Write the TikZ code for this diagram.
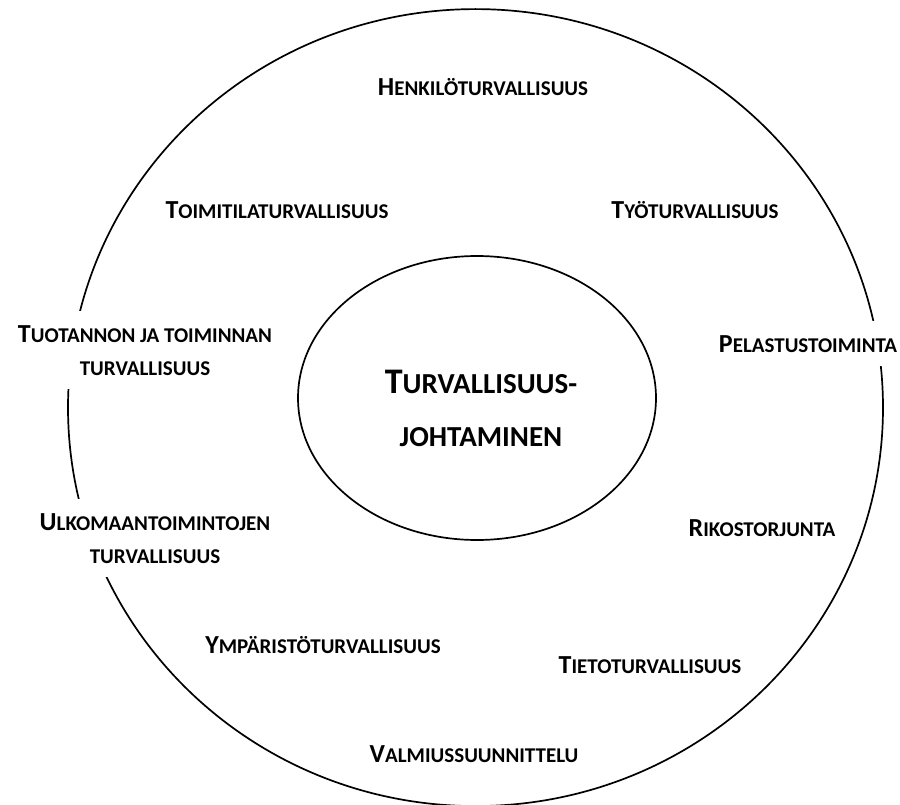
\documentclass[tikz,border=0pt]{standalone}
\usepackage{fontspec}
\setmainfont{Carlito}
\usetikzlibrary{shapes.geometric}
% small-caps label: large initial, smaller remaining capitals
\newcommand\scl[2]{{\fontsize{26}{33}\selectfont #1}{\fontsize{21}{33}\selectfont #2}}
\newcommand\scm[1]{{\fontsize{21}{33}\selectfont #1}}
\newcommand\scb[2]{{\fontsize{36}{53}\selectfont #1}{\fontsize{29}{53}\selectfont #2}}
\begin{document}
\begin{tikzpicture}[x=1pt,y=-1pt,
  ring/.style={draw, ellipse, line width=1.7pt, inner sep=0pt},
  lbl/.style={font=\bfseries\fontsize{21}{33}\selectfont, align=center, anchor=base, inner sep=0pt},
  cut/.style={lbl, fill=white, inner xsep=6pt, inner ysep=14pt}]
\useasboundingbox (0,0) rectangle (900,805);
% outer and inner rings
\node[ring, minimum width=815pt, minimum height=797pt] (outer) at (475.5,407.6) {};
\node[ring, minimum width=358pt, minimum height=284pt] (inner) at (477,398) {};
% central label (anchored at the baseline of its last line)
\node[lbl, font=\bfseries\fontsize{29}{53}\selectfont] (center) at (481,446) {\scb{T}{URVALLISUUS-}\\\scb{}{JOHTAMINEN}};
% surrounding labels
\node[lbl] (henk) at (483,96) {\scl{H}{ENKILÖTURVALLISUUS}};
\node[lbl] (toim) at (277,219) {\scl{T}{OIMITILATURVALLISUUS}};
\node[lbl] (tyo) at (695,219) {\scl{T}{YÖTURVALLISUUS}};
\node[cut] (tuot) at (145,375) {\scl{T}{UOTANNON JA TOIMINNAN}\\\scm{TURVALLISUUS}};
\node[cut] (pela) at (808,352) {\scl{P}{ELASTUSTOIMINTA}};
\node[lbl] (riko) at (762,536) {\scl{R}{IKOSTORJUNTA}};
\node[cut] (ulko) at (155,563) {\scl{U}{LKOMAANTOIMINTOJEN}\\\scm{TURVALLISUUS}};
\node[lbl] (ympa) at (323,653) {\scl{Y}{MPÄRISTÖTURVALLISUUS}};
\node[lbl] (tiet) at (650,673) {\scl{T}{IETOTURVALLISUUS}};
\node[lbl] (valm) at (474,762) {\scl{V}{ALMIUSSUUNNITTELU}};
\end{tikzpicture}
\end{document}
